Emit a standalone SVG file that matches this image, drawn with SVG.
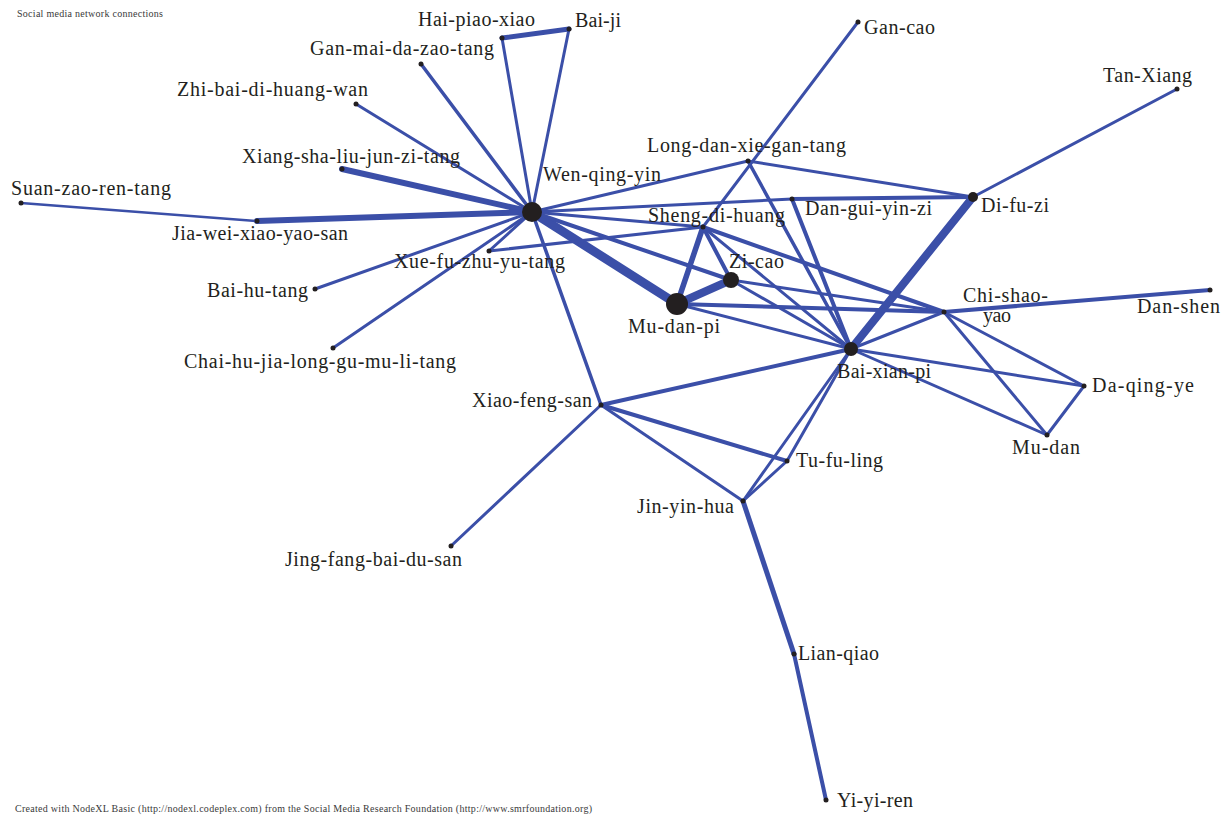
<svg xmlns="http://www.w3.org/2000/svg" width="1226" height="820" viewBox="0 0 1226 820">
<style>
.e{stroke:#3B4FA8;stroke-linecap:round;fill:none}
.d{fill:#231F20}
.l{font-family:"Liberation Serif",serif;font-size:20px;fill:#231F20}
.s{font-family:"Liberation Serif",serif;font-size:10px;fill:#3a3a3a}
</style>
<rect width="1226" height="820" fill="#fff"/>
<text class="s" x="17" y="17" textLength="146">Social media network connections</text>
<text class="s" x="15" y="812" textLength="577">Created with NodeXL Basic (http://nodexl.codeplex.com) from the Social Media Research Foundation (http://www.smrfoundation.org)</text>
<g id="edges">
<line class="e" x1="532" y1="212" x2="502" y2="38" stroke-width="3"/>
<line class="e" x1="532" y1="212" x2="569" y2="29" stroke-width="3"/>
<line class="e" x1="502" y1="38" x2="569" y2="29" stroke-width="5"/>
<line class="e" x1="532" y1="212" x2="421" y2="64" stroke-width="3.5"/>
<line class="e" x1="532" y1="212" x2="356" y2="104" stroke-width="3"/>
<line class="e" x1="532" y1="212" x2="342" y2="169" stroke-width="6"/>
<line class="e" x1="532" y1="212" x2="257" y2="221" stroke-width="6"/>
<line class="e" x1="257" y1="221" x2="21" y2="203" stroke-width="2.5"/>
<line class="e" x1="532" y1="212" x2="489" y2="251" stroke-width="3"/>
<line class="e" x1="532" y1="212" x2="315" y2="289" stroke-width="3"/>
<line class="e" x1="532" y1="212" x2="333" y2="348" stroke-width="3"/>
<line class="e" x1="532" y1="212" x2="601" y2="405" stroke-width="3.5"/>
<line class="e" x1="532" y1="212" x2="677" y2="304" stroke-width="9"/>
<line class="e" x1="532" y1="212" x2="731" y2="280" stroke-width="4"/>
<line class="e" x1="532" y1="212" x2="703" y2="227" stroke-width="3"/>
<line class="e" x1="532" y1="212" x2="792" y2="199" stroke-width="3"/>
<line class="e" x1="532" y1="212" x2="748" y2="161" stroke-width="3"/>
<line class="e" x1="489" y1="251" x2="703" y2="227" stroke-width="3"/>
<line class="e" x1="858" y1="22" x2="703" y2="227" stroke-width="3"/>
<line class="e" x1="748" y1="161" x2="973" y2="197" stroke-width="3"/>
<line class="e" x1="748" y1="161" x2="851" y2="349" stroke-width="3.5"/>
<line class="e" x1="792" y1="199" x2="973" y2="197" stroke-width="4"/>
<line class="e" x1="792" y1="199" x2="851" y2="349" stroke-width="4"/>
<line class="e" x1="973" y1="197" x2="851" y2="349" stroke-width="8"/>
<line class="e" x1="973" y1="197" x2="1177" y2="89" stroke-width="3"/>
<line class="e" x1="703" y1="227" x2="677" y2="304" stroke-width="5.5"/>
<line class="e" x1="703" y1="227" x2="731" y2="280" stroke-width="4"/>
<line class="e" x1="703" y1="227" x2="944" y2="312" stroke-width="4"/>
<line class="e" x1="703" y1="227" x2="851" y2="349" stroke-width="3"/>
<line class="e" x1="677" y1="304" x2="731" y2="280" stroke-width="8"/>
<line class="e" x1="677" y1="304" x2="944" y2="312" stroke-width="4"/>
<line class="e" x1="677" y1="304" x2="851" y2="349" stroke-width="3"/>
<line class="e" x1="731" y1="280" x2="944" y2="312" stroke-width="3"/>
<line class="e" x1="731" y1="280" x2="851" y2="349" stroke-width="3"/>
<line class="e" x1="944" y1="312" x2="1210" y2="290" stroke-width="4"/>
<line class="e" x1="944" y1="312" x2="851" y2="349" stroke-width="3"/>
<line class="e" x1="944" y1="312" x2="1084" y2="386" stroke-width="3"/>
<line class="e" x1="944" y1="312" x2="1047" y2="435" stroke-width="3"/>
<line class="e" x1="851" y1="349" x2="1084" y2="386" stroke-width="3"/>
<line class="e" x1="851" y1="349" x2="1047" y2="435" stroke-width="3"/>
<line class="e" x1="1084" y1="386" x2="1047" y2="435" stroke-width="3"/>
<line class="e" x1="851" y1="349" x2="601" y2="405" stroke-width="4"/>
<line class="e" x1="851" y1="349" x2="743" y2="501" stroke-width="3"/>
<line class="e" x1="851" y1="349" x2="787" y2="461" stroke-width="3"/>
<line class="e" x1="601" y1="405" x2="787" y2="461" stroke-width="4"/>
<line class="e" x1="601" y1="405" x2="743" y2="501" stroke-width="3"/>
<line class="e" x1="601" y1="405" x2="451" y2="546" stroke-width="3"/>
<line class="e" x1="743" y1="501" x2="787" y2="461" stroke-width="3"/>
<line class="e" x1="743" y1="501" x2="794" y2="654" stroke-width="5"/>
<line class="e" x1="794" y1="654" x2="826" y2="800" stroke-width="4"/>
</g>
<g id="n-wen-qing-yin"><circle class="d" cx="532" cy="212" r="10"/><text class="l" x="543" y="181" textLength="118">Wen-qing-yin</text></g>
<g id="n-hai-piao-xiao"><circle class="d" cx="502" cy="38" r="2.5"/><text class="l" x="418" y="26" textLength="117">Hai-piao-xiao</text></g>
<g id="n-bai-ji"><circle class="d" cx="569" cy="29" r="2.5"/><text class="l" x="575" y="27" textLength="46">Bai-ji</text></g>
<g id="n-gan-mai-da-zao-tang"><circle class="d" cx="421" cy="64" r="2.5"/><text class="l" x="310" y="55" textLength="184">Gan-mai-da-zao-tang</text></g>
<g id="n-zhi-bai-di-huang-wan"><circle class="d" cx="356" cy="104" r="2.5"/><text class="l" x="177" y="96" textLength="191">Zhi-bai-di-huang-wan</text></g>
<g id="n-xiang-sha-liu-jun-zi-tang"><circle class="d" cx="342" cy="169" r="2.5"/><text class="l" x="242" y="163" textLength="218">Xiang-sha-liu-jun-zi-tang</text></g>
<g id="n-suan-zao-ren-tang"><circle class="d" cx="21" cy="203" r="2.5"/><text class="l" x="11" y="195" textLength="160">Suan-zao-ren-tang</text></g>
<g id="n-jia-wei-xiao-yao-san"><circle class="d" cx="257" cy="221" r="2.5"/><text class="l" x="172" y="240" textLength="176">Jia-wei-xiao-yao-san</text></g>
<g id="n-xue-fu-zhu-yu-tang"><circle class="d" cx="489" cy="251" r="2.5"/><text class="l" x="394" y="268" textLength="171">Xue-fu-zhu-yu-tang</text></g>
<g id="n-bai-hu-tang"><circle class="d" cx="315" cy="289" r="2.5"/><text class="l" x="207" y="297" textLength="101">Bai-hu-tang</text></g>
<g id="n-chai-hu"><circle class="d" cx="333" cy="348" r="2.5"/><text class="l" x="184" y="368" textLength="272">Chai-hu-jia-long-gu-mu-li-tang</text></g>
<g id="n-long-dan-xie-gan-tang"><circle class="d" cx="748" cy="161" r="2.5"/><text class="l" x="647" y="152" textLength="199">Long-dan-xie-gan-tang</text></g>
<g id="n-gan-cao"><circle class="d" cx="858" cy="22" r="2.5"/><text class="l" x="864" y="34" textLength="71">Gan-cao</text></g>
<g id="n-sheng-di-huang"><circle class="d" cx="703" cy="227" r="2.5"/><text class="l" x="648" y="222" textLength="137">Sheng-di-huang</text></g>
<g id="n-dan-gui-yin-zi"><circle class="d" cx="792" cy="199" r="2.5"/><text class="l" x="805" y="215" textLength="127">Dan-gui-yin-zi</text></g>
<g id="n-di-fu-zi"><circle class="d" cx="973" cy="197" r="5"/><text class="l" x="981" y="212" textLength="68">Di-fu-zi</text></g>
<g id="n-tan-xiang"><circle class="d" cx="1177" cy="89" r="2.5"/><text class="l" x="1103" y="82" textLength="89">Tan-Xiang</text></g>
<g id="n-zi-cao"><circle class="d" cx="731" cy="280" r="8"/><text class="l" x="729" y="268" textLength="55">Zi-cao</text></g>
<g id="n-mu-dan-pi"><circle class="d" cx="677" cy="304" r="11"/><text class="l" x="628" y="333" textLength="92">Mu-dan-pi</text></g>
<g id="n-chi-shao-yao"><circle class="d" cx="944" cy="312" r="2.5"/><text class="l" x="963" y="302" textLength="85">Chi-shao-</text><text class="l" x="983" y="322" textLength="28">yao</text></g>
<g id="n-dan-shen"><circle class="d" cx="1210" cy="290" r="2.5"/><text class="l" x="1137" y="313" textLength="83">Dan-shen</text></g>
<g id="n-bai-xian-pi"><circle class="d" cx="851" cy="349" r="7"/><text class="l" x="837" y="378" textLength="94">Bai-xian-pi</text></g>
<g id="n-da-qing-ye"><circle class="d" cx="1084" cy="386" r="2.5"/><text class="l" x="1092" y="392" textLength="102">Da-qing-ye</text></g>
<g id="n-mu-dan"><circle class="d" cx="1047" cy="435" r="2.5"/><text class="l" x="1012" y="454" textLength="68">Mu-dan</text></g>
<g id="n-xiao-feng-san"><circle class="d" cx="601" cy="405" r="2.5"/><text class="l" x="472" y="407" textLength="120">Xiao-feng-san</text></g>
<g id="n-tu-fu-ling"><circle class="d" cx="787" cy="461" r="2.5"/><text class="l" x="796" y="467" textLength="87">Tu-fu-ling</text></g>
<g id="n-jin-yin-hua"><circle class="d" cx="743" cy="501" r="2.5"/><text class="l" x="637" y="513" textLength="97">Jin-yin-hua</text></g>
<g id="n-jing-fang-bai-du-san"><circle class="d" cx="451" cy="546" r="2.5"/><text class="l" x="285" y="566" textLength="177">Jing-fang-bai-du-san</text></g>
<g id="n-lian-qiao"><circle class="d" cx="794" cy="654" r="2.5"/><text class="l" x="798" y="660" textLength="81">Lian-qiao</text></g>
<g id="n-yi-yi-ren"><circle class="d" cx="826" cy="800" r="2.5"/><text class="l" x="837" y="807" textLength="76">Yi-yi-ren</text></g>
</svg>
